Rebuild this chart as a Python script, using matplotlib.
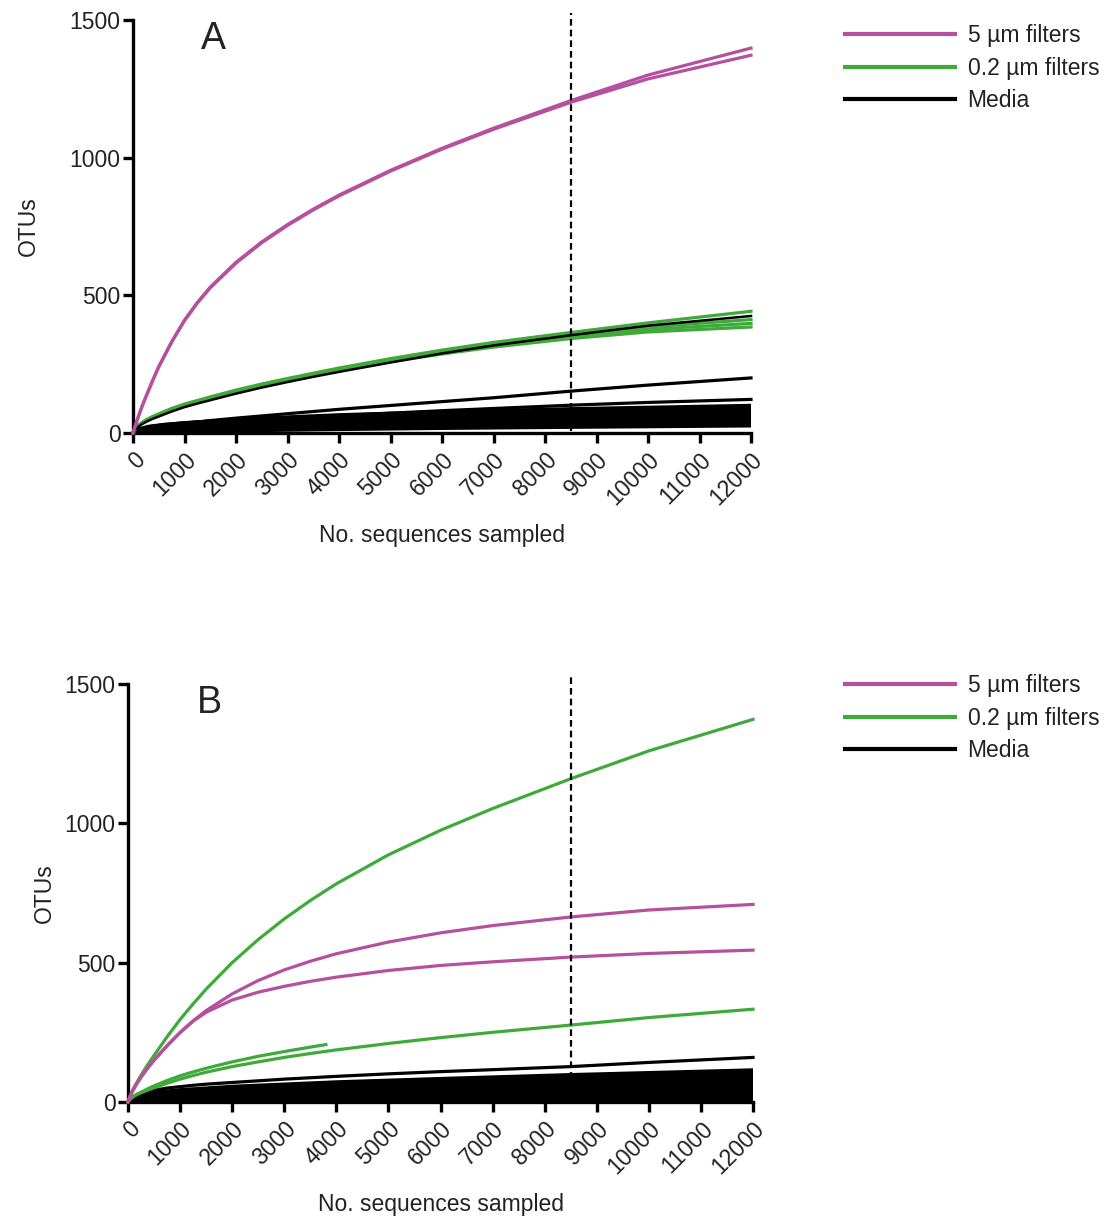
import matplotlib
matplotlib.use("Agg")
import matplotlib.pyplot as plt
from matplotlib.lines import Line2D

plt.rcParams['font.family'] = ['Liberation Sans', 'DejaVu Sans']

MAGENTA = '#B5509E'
GREEN = '#3FAA3A'
BLACK = '#000000'

# ---------------- data ----------------
# fine grid for the prominent curves
X_c = [0, 50, 100, 175, 250, 375, 500, 750, 1000, 1250, 1500, 2000, 2500, 3000, 3500,
       4000, 5000, 6000, 7000, 8500, 10000, 12000]
# coarse grid for the dense media band
X_m = [0, 100, 300, 600, 1000, 2000, 4000, 6000, 8500, 12000]
# short green curve in panel B
X_short = [0, 50, 100, 175, 250, 375, 500, 750, 1000, 1250, 1500, 2000, 2500, 3000, 3500, 3800]

# ---- Panel A ----
A_mag = [
    [0, 30, 58, 97, 132, 188, 241, 331, 410, 474, 530, 620, 694, 757, 813, 864, 954, 1034, 1107, 1207, 1300, 1398],
    [0, 29, 57, 96, 131, 187, 240, 330, 408, 472, 527, 617, 691, 754, 810, 861, 951, 1031, 1103, 1201, 1286, 1372],
]
A_green = [
    [0, 17, 27, 38, 47, 59, 69, 89, 105, 118, 131, 156, 178, 198, 217, 236, 270, 301, 329, 365, 400, 442],
    [0, 16, 26, 37, 46, 58, 68, 87, 103, 116, 129, 153, 175, 195, 214, 232, 265, 295, 322, 356, 385, 412],
    [0, 16, 26, 37, 46, 58, 68, 87, 103, 116, 129, 152, 174, 194, 212, 230, 262, 291, 317, 349, 376, 398],
    [0, 16, 26, 36, 45, 57, 67, 86, 102, 115, 128, 151, 173, 192, 210, 228, 259, 287, 312, 343, 367, 385],
]
# media samples that stand out of the band (on X_c)
A_media_top = [
    [0, 13, 22, 32, 40, 51, 60, 78, 94, 107, 119, 143, 165, 185, 204, 222, 256, 289, 318, 355, 390, 425],
    [0, 4, 7, 11, 14, 18, 22, 29, 35, 40, 45, 54, 62, 70, 78, 86, 100, 114, 128, 152, 174, 200],
    [0, 5, 8, 12, 15, 19, 22, 26, 29, 32, 35, 41, 47, 53, 58, 63, 72, 81, 89, 101, 111, 122],
]
# dense media band (on X_m)
A_media = [
    [0, 12, 22, 30, 37, 50, 66, 77, 88, 100],
    [0, 10, 20, 28, 35, 48, 63, 74, 84, 95],
    [0, 14, 24, 31, 37, 48, 61, 71, 80, 90],
    [0, 9, 17, 25, 31, 43, 57, 67, 76, 85],
    [0, 11, 20, 27, 32, 42, 55, 64, 72, 80],
    [0, 8, 16, 22, 28, 38, 51, 60, 68, 75],
    [0, 10, 18, 24, 29, 38, 49, 57, 64, 70],
    [0, 7, 14, 20, 25, 34, 45, 52, 59, 65],
    [0, 9, 16, 21, 26, 33, 42, 49, 55, 60],
    [0, 6, 12, 17, 22, 30, 39, 45, 50, 55],
    [0, 8, 14, 19, 23, 29, 37, 42, 46, 50],
    [0, 6, 11, 15, 19, 25, 33, 38, 42, 46],
    [0, 7, 12, 16, 19, 24, 30, 35, 39, 42],
    [0, 5, 10, 13, 16, 21, 27, 31, 35, 38],
    [0, 6, 10, 13, 15, 19, 24, 28, 31, 34],
    [0, 5, 9, 12, 14, 18, 22, 25, 28, 31],
    [0, 2, 3, 4, 5, 8, 13, 17, 21, 26],
]

# ---- Panel B ----
B_mag = [
    [0, 25, 44, 68, 89, 121, 150, 202, 250, 291, 328, 388, 436, 474, 505, 532, 574, 607, 633, 664, 689, 709],
    [0, 25, 44, 68, 89, 121, 150, 202, 249, 290, 322, 366, 394, 415, 433, 448, 472, 490, 503, 520, 533, 545],
]
B_green = [
    [0, 26, 46, 72, 96, 133, 167, 234, 296, 352, 405, 500, 583, 657, 723, 783, 887, 975, 1053, 1160, 1260, 1373],
    [0, 12, 19, 27, 33, 42, 51, 67, 82, 95, 107, 127, 144, 160, 174, 187, 210, 231, 250, 276, 303, 333],
]
B_green_short = [0, 12, 20, 28, 35, 47, 58, 77, 94, 108, 121, 144, 164, 181, 197, 206]
B_media_top = [
    [0, 9, 16, 24, 30, 37, 42, 50, 55, 60, 64, 70, 76, 82, 87, 92, 101, 109, 116, 127, 142, 160],
]
B_media = [
    [0, 15, 27, 36, 44, 56, 72, 84, 98, 115],
    [0, 12, 24, 33, 40, 53, 69, 81, 95, 110],
    [0, 14, 25, 33, 40, 52, 67, 78, 90, 105],
    [0, 10, 20, 28, 35, 47, 62, 74, 86, 100],
    [0, 12, 22, 30, 36, 47, 61, 72, 83, 95],
    [0, 9, 18, 26, 32, 43, 57, 67, 78, 90],
    [0, 11, 20, 27, 32, 42, 55, 65, 75, 85],
    [0, 8, 16, 23, 29, 39, 52, 61, 71, 80],
    [0, 10, 18, 24, 29, 38, 50, 58, 67, 75],
    [0, 7, 15, 21, 26, 35, 46, 54, 62, 70],
    [0, 9, 16, 21, 25, 33, 43, 50, 58, 65],
    [0, 6, 13, 18, 22, 30, 40, 47, 54, 60],
    [0, 8, 14, 18, 22, 29, 37, 43, 49, 55],
    [0, 6, 11, 15, 19, 26, 34, 40, 45, 50],
    [0, 7, 12, 15, 18, 24, 31, 36, 41, 45],
    [0, 5, 10, 13, 16, 21, 28, 32, 36, 40],
    [0, 6, 10, 13, 15, 19, 25, 29, 32, 35],
    [0, 4, 8, 11, 13, 17, 22, 25, 28, 30],
    [0, 5, 8, 10, 12, 15, 18, 20, 22, 24],
    [0, 3, 6, 8, 9, 11, 14, 15, 17, 18],
    [0, 3, 5, 6, 7, 8, 9, 10, 11, 12],
    [0, 2, 3, 3, 4, 4, 5, 5, 6, 6],
]

x_ticks = list(range(0, 12001, 1000))
y_ticks = [0, 500, 1000, 1500]
cutoff = 8500
legend_labels = ['5 \u00b5m filters', '0.2 \u00b5m filters', 'Media']

# ---------------- figure ----------------
W, H = 1104, 1218
fig = plt.figure(figsize=(W / 100, H / 100), dpi=100)

def px_axes(left, right, top, bottom):
    return fig.add_axes([left / W, 1 - bottom / H, (right - left) / W, (bottom - top) / H])

axA = px_axes(133, 751, 20, 433)
axB = px_axes(128, 753, 684, 1102)

LW = 2.3
FS = 16.5
TXT = '#222222'

def style(ax, letter, leg_top, ylabelpad):
    ax.set_xlim(0, 12000)
    ax.set_ylim(0, 1500)
    for s in ['top', 'right']:
        ax.spines[s].set_visible(False)
    for s in ['left', 'bottom']:
        ax.spines[s].set_linewidth(2.4)
    ax.set_xticks(x_ticks)
    ax.set_yticks(y_ticks)
    ax.set_xticklabels([str(t) for t in x_ticks], rotation=45, ha='right', va='top',
                       rotation_mode='anchor', fontsize=FS, color=TXT)
    ax.set_yticklabels([str(t) for t in y_ticks], fontsize=FS, color=TXT)
    ax.tick_params(axis='both', direction='out', length=7, width=2.4, pad=2)
    ax.tick_params(axis='x', pad=4)
    ax.set_xlabel('No. sequences sampled', fontsize=FS, color=TXT, labelpad=10)
    ax.set_ylabel('OTUs', fontsize=FS, color=TXT, labelpad=ylabelpad)
    ax.text(0.13, 0.955, letter, transform=ax.transAxes, fontsize=27, color=TXT,
            ha='center', va='center')
    ax.plot([cutoff, cutoff], [8, 1525], color='black', lw=1.6, ls=(0, (3.0, 1.8)),
            clip_on=False, zorder=6)
    handles = [Line2D([], [], color=MAGENTA, lw=3),
               Line2D([], [], color=GREEN, lw=3),
               Line2D([], [], color=BLACK, lw=3)]
    fig.legend(handles, legend_labels, loc='upper left',
               bbox_to_anchor=(845 / W, 1 - leg_top / H), bbox_transform=fig.transFigure,
               frameon=False, fontsize=FS, handlelength=4.8, handletextpad=0.55,
               labelspacing=0.42, borderpad=0, borderaxespad=0, labelcolor=TXT)

# Panel A
for ys in A_media:
    axA.plot(X_m, ys, color=BLACK, lw=2.4, clip_on=False, zorder=2, solid_capstyle='butt')
axA.plot(X_c, A_media_top[2], color=BLACK, lw=LW, clip_on=False, zorder=2)
axA.plot(X_c, A_media_top[1], color=BLACK, lw=LW, clip_on=False, zorder=2)
for ys in A_green:
    axA.plot(X_c, ys, color=GREEN, lw=LW, clip_on=False, zorder=3)
axA.plot(X_c, A_media_top[0], color=BLACK, lw=1.8, clip_on=False, zorder=4)
for ys in A_mag:
    axA.plot(X_c, ys, color=MAGENTA, lw=LW, clip_on=False, zorder=4)
style(axA, 'A', 24, 21)

# Panel B
for ys in B_media:
    axB.plot(X_m, ys, color=BLACK, lw=2.4, clip_on=False, zorder=2, solid_capstyle='butt')
for ys in B_media_top:
    axB.plot(X_c, ys, color=BLACK, lw=LW, clip_on=False, zorder=2)
for ys in B_green:
    axB.plot(X_c, ys, color=GREEN, lw=LW, clip_on=False, zorder=3)
axB.plot(X_short, B_green_short, color=GREEN, lw=LW, clip_on=False, zorder=3)
for ys in B_mag:
    axB.plot(X_c, ys, color=MAGENTA, lw=LW, clip_on=False, zorder=4)
style(axB, 'B', 674, 6)

fig.savefig('out.png', dpi=100, facecolor='white')
